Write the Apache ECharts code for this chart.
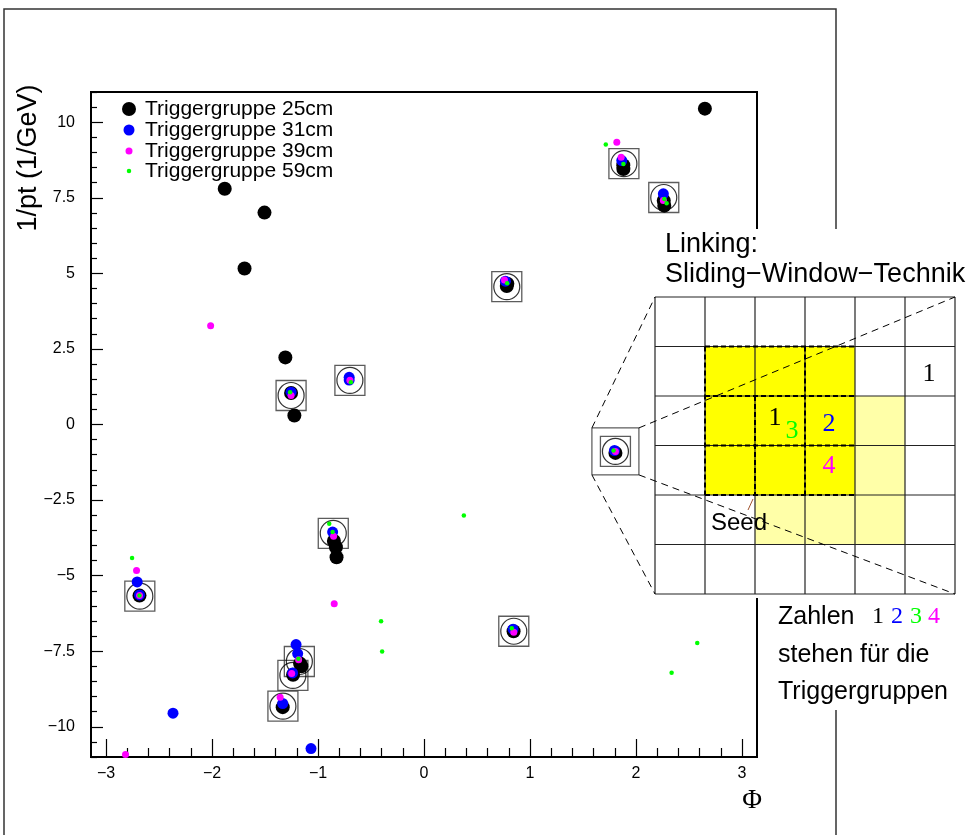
<!DOCTYPE html>
<html>
<head>
<meta charset="utf-8">
<script src="https://cdn.jsdelivr.net/npm/echarts@6/dist/echarts.min.js"></script>
<style>
html, body { margin: 0; padding: 0; background: #fff; }
#chart { width: 977px; height: 835px; }
</style>
</head>
<body>
<div id="chart"></div>
<script>
// axis ticks
const phiTicks = [-3, -2, -1, 0, 1, 2, 3]
const ptTicks = [-10, -7.5, -5, -2.5, 0, 2.5, 5, 7.5, 10]

// hits per trigger group: [phi, 1/pt]
const group25 = [
	[2.65, 10.45], [-1.88, 7.80], [-1.505, 7.01], [-1.693, 5.16], [-1.308, 2.22], [-1.223, 0.30],
	[-0.85, -3.85], [-0.831, -4.06], [-0.825, -4.39],
	[1.881, 8.45], [1.88, 8.58], [2.267, 7.24], [2.262, 7.40], [0.781, 4.58], [0.786, 4.66],
	[-1.254, 1.04], [-2.684, -5.66], [-1.169, -7.91], [-1.157, -8.0], [-1.235, -8.28],
	[-1.333, -9.35], [0.845, -6.84], [1.806, -0.94]
]
const group31 = [
	[1.866, 8.73], [2.258, 7.63], [0.768, 4.74], [-1.254, 1.07], [-0.706, 1.56], [-0.706, 1.47],
	[-0.862, -3.56], [-2.684, -5.64], [-2.706, -5.21], [-1.207, -7.28], [-1.192, -7.58],
	[-1.24, -8.22], [-1.333, -9.23], [0.840, -6.77], [1.797, -0.86],
	[-2.368, -9.55], [-1.066, -10.72]
]
const group39 = [
	[1.860, 8.84], [1.819, 9.34], [2.258, 7.41], [0.759, 4.78], [-1.254, 0.96], [-0.699, 1.46],
	[-0.853, -3.70], [-2.684, -5.66], [-2.712, -4.83], [-1.183, -7.78], [-1.248, -8.24],
	[-1.357, -9.02], [0.847, -6.87], [1.806, -0.89],
	[-2.013, 3.27], [-2.816, -10.92], [-0.847, -5.93]
]
const group59 = [
	[1.881, 8.62], [1.715, 9.26], [2.267, 7.46], [2.289, 7.32], [0.784, 4.67], [-1.263, 1.07],
	[-0.690, 1.40], [-0.894, -3.28], [-0.862, -3.56], [-2.684, -5.66], [-2.754, -4.42],
	[-1.185, -7.75], [0.828, -6.74], [1.788, -0.86],
	[0.376, -3.01], [-0.405, -6.51], [-0.395, -7.51], [2.578, -7.23], [2.336, -8.21]
]
// linked tracks (box + circle)
const linked = [
	[1.886, 8.63], [2.262, 7.51], [0.781, 4.56], [-1.254, 0.96], [-0.699, 1.46], [-0.856, -3.60],
	[-2.681, -5.68], [-1.176, -7.84], [-1.237, -8.30], [-1.331, -9.32], [0.847, -6.84], [1.806, -0.89]
]
// track shown enlarged in the inset
const zoomed = [[1.806, -0.89]]

const groupNames = ["Triggergruppe 25cm", "Triggergruppe 31cm", "Triggergruppe 39cm", "Triggergruppe 59cm"]
const groupColors = ["#000000", "#0000ff", "#ff00ff", "#00ff00"]
const groupSizes = [14, 11, 7, 4.5]
const groupData = [group25, group31, group39, group59]
const legendRows = [109, 130, 151, 171]

const minorPhi = []
for (let i = -15; i <= 15; i++) if (i % 5 !== 0) minorPhi.push(i / 5)
const minorPt = []
for (let i = -22; i <= 22; i++) if (i % 5 !== 0) minorPt.push(i / 2)

const fmt = (v) => (v < 0 ? "\u2212" + Math.abs(v) : String(v))
const sans = "Liberation Sans, Arial, sans-serif"
const serif = "Liberation Serif, Times New Roman, serif"

const chart = echarts.init(document.getElementById("chart"))

const axisBase = {
	type: "value",
	axisLine: { show: false, onZero: false },
	splitLine: { show: false }
}

let option = {
	animation: false,
	backgroundColor: "#fff",
	grid: {
		left: 91, top: 92, width: 666, height: 665,
		show: true, borderColor: "#000", borderWidth: 2
	},
	xAxis: [
		{
			...axisBase, min: -Math.PI, max: Math.PI, position: "bottom",
			axisTick: { inside: true, length: 18, customValues: phiTicks, lineStyle: { color: "#000", width: 1.2 } },
			axisLabel: { customValues: phiTicks, formatter: fmt, margin: 9, color: "#000", fontFamily: sans, fontSize: 16 }
		},
		{
			...axisBase, min: -Math.PI, max: Math.PI, position: "bottom",
			axisTick: { inside: true, length: 9, customValues: minorPhi, lineStyle: { color: "#000", width: 1.2 } },
			axisLabel: { show: false }
		}
	],
	yAxis: [
		{
			...axisBase, min: -11, max: 11, position: "left",
			axisTick: { inside: true, length: 12, customValues: ptTicks, lineStyle: { color: "#000", width: 1.2 } },
			axisLabel: { customValues: ptTicks, formatter: fmt, margin: 16, color: "#000", fontFamily: sans, fontSize: 16 }
		},
		{
			...axisBase, min: -11, max: 11, position: "left",
			axisTick: { inside: true, length: 6, customValues: minorPt, lineStyle: { color: "#000", width: 1.2 } },
			axisLabel: { show: false }
		}
	],
	legend: groupNames.map((name, i) => ({
		data: [{ name: name, icon: "circle" }],
		left: 129 - groupSizes[i] / 2,
		top: legendRows[i] - 11,
		padding: 0,
		itemWidth: groupSizes[i],
		itemHeight: 22,
		selectedMode: false,
		textStyle: {
			fontFamily: sans, fontSize: 21, color: "#000", lineHeight: 22,
			padding: [0, 0, 0, 145 - (134 + groupSizes[i] / 2)]
		}
	})),
	series: [
		{
			name: "linked box", type: "scatter", data: linked, symbol: "rect", symbolSize: 30,
			itemStyle: { color: "transparent", borderColor: "#333", borderWidth: 1.3 },
			silent: true, z: 1
		},
		{
			name: "linked circle", type: "scatter", data: linked, symbol: "circle", symbolSize: 26,
			itemStyle: { color: "transparent", borderColor: "#000", borderWidth: 1.2 },
			silent: true, z: 1
		},
		{
			name: "zoom box", type: "scatter", data: zoomed, symbol: "rect", symbolSize: 47,
			itemStyle: { color: "transparent", borderColor: "#000", borderWidth: 1 },
			silent: true, z: 1
		},
		...groupNames.map((name, i) => ({
			name: name, type: "scatter", data: groupData[i], symbol: "circle",
			symbolSize: groupSizes[i], z: 3 + i,
			itemStyle: { color: groupColors[i], opacity: 1 },
			emphasis: { disabled: true }
		}))
	]
}
chart.setOption(option)

// inset with the sliding window sketch (page pixels)
const c = chart.convertToPixel({ gridIndex: 0 }, zoomed[0])
const h = 23.5
const gx = [655, 705, 755, 805, 855, 905, 955]
const gy = [297, 346.5, 396, 445.5, 495, 544.5, 594]
const dash = { stroke: "#000", lineWidth: 1, lineDash: [7, 5] }
const wdash = { stroke: "#000", lineWidth: 2, lineDash: [5, 3] }
const line = (x1, y1, x2, y2, style, z) => ({
	type: "line", shape: { x1, y1, x2, y2 }, style, z: z || 62, silent: true
})
const text = (x, y, t, font, color, align, z) => ({
	type: "text", x, y, z: z || 63, silent: true,
	style: { text: t, font, fill: color || "#000", align: align || "left", verticalAlign: "middle" }
})

const g = []
g.push({ type: "rect", shape: { x: 4, y: 9, width: 832, height: 840 }, style: { fill: null, stroke: "#333", lineWidth: 1.5 }, z: 0, silent: true })
g.push({ type: "rect", shape: { x: 646, y: 229, width: 331, height: 369 }, style: { fill: "#fff" }, z: 50, silent: true })
g.push({ type: "rect", shape: { x: 762, y: 598, width: 215, height: 112 }, style: { fill: "#fff" }, z: 50, silent: true })
g.push(text(665, 245, "Linking:", "27px " + sans))
g.push(text(665, 275, "Sliding\u2212Window\u2212Technik", "27px " + sans))
g.push({ type: "rect", shape: { x: gx[2], y: gy[2], width: 150, height: gy[5] - gy[2] }, style: { fill: "#ffffa8" }, z: 60, silent: true })
g.push({ type: "rect", shape: { x: gx[1], y: gy[1], width: 150, height: gy[4] - gy[1] }, style: { fill: "#ffff00" }, z: 61, silent: true })
gx.forEach((x) => g.push(line(x, gy[0], x, gy[6], { stroke: "#222", lineWidth: 1.2 })))
gy.forEach((y) => g.push(line(gx[0], y, gx[6], y, { stroke: "#222", lineWidth: 1.2 })))
// 3x3 window
g.push(line(gx[1], gy[1], gx[4], gy[1], wdash, 63))
g.push(line(gx[1], gy[4], gx[4], gy[4], wdash, 63))
g.push(line(gx[1], gy[1], gx[1], gy[4], wdash, 63))
g.push(line(gx[1], gy[2], gx[4], gy[2], wdash, 63))
g.push(line(gx[1], gy[3], gx[4], gy[3], wdash, 63))
g.push(line(gx[2], gy[2], gx[2], gy[4], wdash, 63))
g.push(line(gx[3], gy[1], gx[3], gy[4], wdash, 63))
g.push(text(775, 418, "1", "26px " + serif, "#000", "center"))
g.push(text(792, 431, "3", "26px " + serif, "#00ff00", "center"))
g.push(text(829, 424, "2", "26px " + serif, "#0000ff", "center"))
g.push(text(829, 466, "4", "26px " + serif, "#ff00ff", "center"))
g.push(text(929, 374, "1", "26px " + serif, "#000", "center"))
g.push(text(711, 523, "Seed", "24px " + sans))
g.push(line(753, 499, 748, 510, { stroke: "#a0522d", lineWidth: 1 }, 63))
// magnifier lines
g.push(line(c[0] + h, c[1] - h, gx[6], gy[0], dash, 64))
g.push(line(c[0] + h, c[1] + h, gx[6], gy[6], dash, 64))
g.push(line(c[0] - h, c[1] - h, gx[0], gy[0], dash, 64))
g.push(line(c[0] - h, c[1] + h, gx[0], gy[6], dash, 64))
// legend of the numbers
g.push(text(778, 617, "Zahlen", "25px " + sans))
g.push(text(878, 617, "1", "24px " + serif, "#000", "center"))
g.push(text(897, 617, "2", "24px " + serif, "#0000ff", "center"))
g.push(text(916, 617, "3", "24px " + serif, "#00ff00", "center"))
g.push(text(934, 617, "4", "24px " + serif, "#ff00ff", "center"))
g.push(text(778, 655, "stehen f\u00fcr die", "25px " + sans))
g.push(text(778, 692, "Triggergruppen", "25px " + sans))
// axis titles
g.push({
	type: "text", x: 29, y: 158, rotation: Math.PI / 2, z: 63, silent: true,
	style: { text: "1/pt (1/GeV)", font: "27px " + sans, fill: "#000", align: "center", verticalAlign: "middle" }
})
g.push(text(752, 801, "\u03a6", "27px " + serif, "#000", "center"))

chart.setOption({ graphic: g })
</script>
</body>
</html>
